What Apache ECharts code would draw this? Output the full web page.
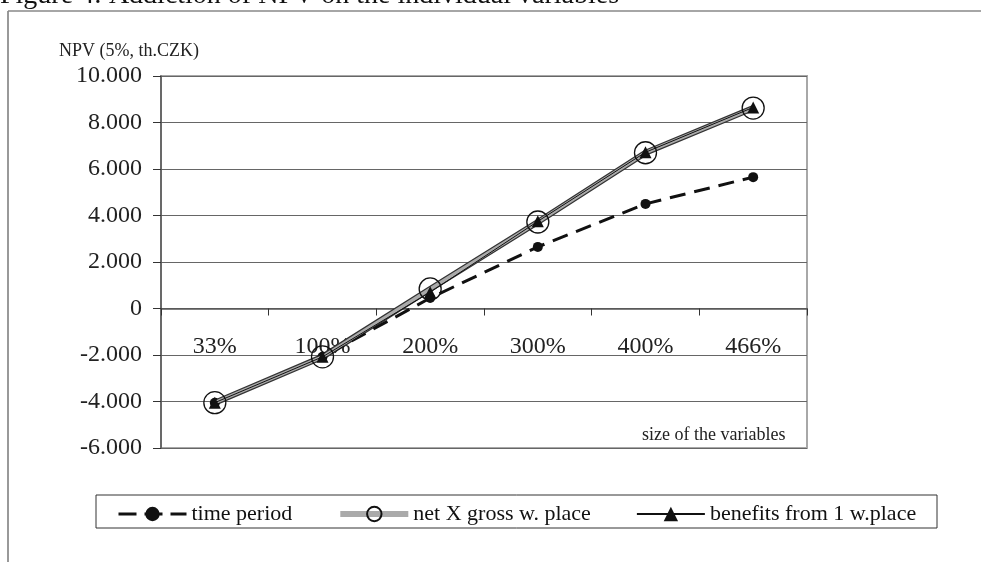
<!DOCTYPE html>
<html>
<head>
<meta charset="utf-8">
<script src="https://cdn.jsdelivr.net/npm/echarts@6/dist/echarts.min.js"></script>
<style>
  html, body { margin: 0; padding: 0; background: #fff; }
  #chart { width: 981px; height: 562px; }
</style>
</head>
<body>
<div id="chart"></div>
<script>
// categories (size of the variables)
const categories = ['33%', '100%', '200%', '300%', '400%', '466%'];
// NPV values, th. CZK
const timePeriod = [-4050, -2080, 450, 2650, 4500, 5650];
const netGross = [-4050, -2080, 840, 3720, 6700, 8620];
const benefits = [-4050, -2080, 700, 3750, 6720, 8650];
// y axis range
const yMin = -6000;
const yMax = 10000;
const yStep = 2000;

const serif = '"Liberation Serif", "DejaVu Serif", serif';

// 10000 -> 10.000, -2000 -> -2.000
function fmt(v) {
  if (v === 0) return '0';
  const s = String(Math.abs(v)).replace(/\B(?=(\d{3})+(?!\d))/g, '.');
  return (v < 0 ? '-' : '') + s;
}

const gridTop = 76;
const gridBottom = 114;
const plotH = 562 - gridTop - gridBottom;
// category axis sits on the zero line
const zeroOffset = -plotH * (0 - yMin) / (yMax - yMin);

const chart = echarts.init(document.getElementById('chart'));

const option = {
  animation: false,
  backgroundColor: '#fff',
  grid: {
    left: 161,
    right: 174,
    top: gridTop,
    bottom: gridBottom,
    show: true,
    borderColor: '#a8a8a8',
    borderWidth: 2,
  },
  // 图例
  legend: {
    data: [
      { name: 'time period', lineStyle: { type: [18, 8], width: 3 } },
      { name: 'net X gross w. place', lineStyle: { width: 6, color: '#aaa' } },
      { name: 'benefits from 1 w.place' },
    ],
    left: 112,
    top: 498,
    itemWidth: 68,
    itemHeight: 18,
    itemGap: 45,
    textStyle: { fontFamily: serif, fontSize: 22, color: '#111' },
  },
  xAxis: {
    type: 'category',
    data: categories,
    offset: zeroOffset,
    axisLine: { onZero: false, lineStyle: { color: '#555', width: 1.5 } },
    axisTick: { show: true, length: 7, lineStyle: { color: '#333' } },
    axisLabel: { margin: 26, fontFamily: serif, fontSize: 24, color: '#222' },
    splitLine: { show: false },
  },
  yAxis: {
    type: 'value',
    min: yMin,
    max: yMax,
    interval: yStep,
    axisLine: { show: true, lineStyle: { color: '#555', width: 1.5 } },
    axisTick: { show: true, length: 8, lineStyle: { color: '#333' } },
    axisLabel: { margin: 19, fontFamily: serif, fontSize: 24, color: '#222', formatter: fmt },
    splitLine: { lineStyle: { color: '#666', width: 1 } },
  },
  series: [
    {
      name: 'time period',
      type: 'line',
      data: timePeriod,
      symbol: 'circle',
      symbolSize: 10,
      itemStyle: { color: '#111' },
      lineStyle: { color: '#111', width: 3, type: [16, 9] },
      z: 3,
    },
    // dark outline under the grey line
    {
      name: 'netOutline',
      type: 'line',
      data: netGross,
      symbol: 'none',
      silent: true,
      lineStyle: { color: '#333', width: 6 },
      z: 2,
    },
    {
      name: 'net X gross w. place',
      type: 'line',
      data: netGross,
      symbol: 'circle',
      symbolSize: 22,
      itemStyle: { color: 'rgba(0,0,0,0)', borderColor: '#111', borderWidth: 1.3 },
      lineStyle: { color: '#aaa', width: 3.5 },
      z: 4,
    },
    {
      name: 'benefits from 1 w.place',
      type: 'line',
      data: benefits,
      symbol: 'triangle',
      symbolSize: 12,
      itemStyle: { color: '#111' },
      lineStyle: { color: '#111', width: 1 },
      z: 5,
    },
  ],
  graphic: [
    // outer frame
    { type: 'line', shape: { x1: 8, y1: 11, x2: 8, y2: 562 }, style: { stroke: '#999', lineWidth: 2 } },
    { type: 'line', shape: { x1: 8, y1: 11, x2: 981, y2: 11 }, style: { stroke: '#888', lineWidth: 1.5 } },
    // legend box
    { type: 'rect', shape: { x: 96, y: 495, width: 841, height: 33 }, style: { fill: 'none', stroke: '#333', lineWidth: 1 } },
    {
      type: 'text', left: 0, top: -18,
      style: { text: 'Figure 4: Addiction of NPV on the individual variables', font: '28px ' + serif, fill: '#111' },
    },
    {
      type: 'text', left: 59, top: 42,
      style: { text: 'NPV (5%, th.CZK)', font: '18px ' + serif, fill: '#222' },
    },
    {
      type: 'text', left: 642, top: 426,
      style: { text: 'size of the variables', font: '18px ' + serif, fill: '#222' },
    },
  ],
};

chart.setOption(option);
</script>
</body>
</html>
